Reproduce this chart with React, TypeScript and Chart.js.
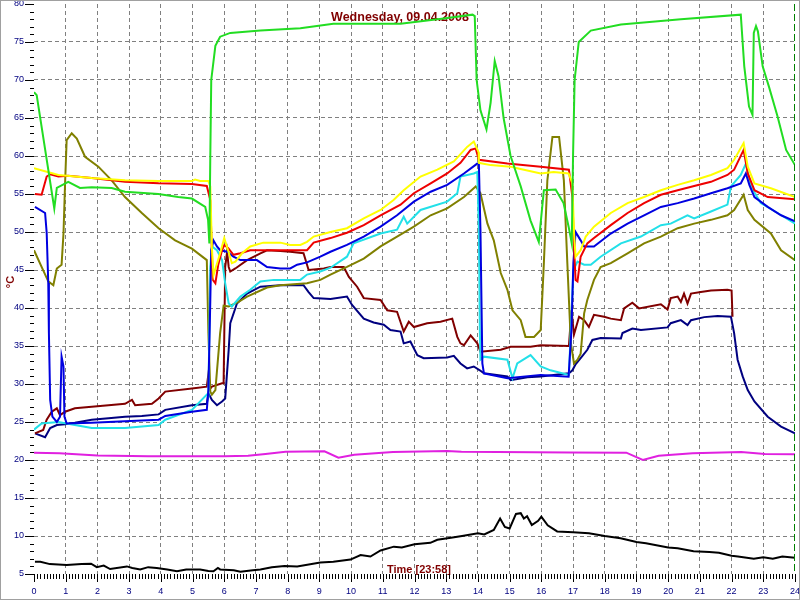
import React, { useEffect, useRef } from "react";
import { Chart, registerables } from "chart.js";

Chart.register(...registerables);

type P = [number, number];

const TITLE = "Wednesday, 09.04.2008";
const TIME_LABEL = "Time [23:58]";
const Y_UNIT = "°C";
const NOW_HOUR = 23 + 58 / 60;
const X_MIN = 0;
const X_MAX = 24;
const Y_MIN = 5;
const Y_MAX = 80;

// [hour, °C]
const green: P[] = [[0,68.4],[0.085,68.0],[0.64,53.1],[0.72,55.8],[1.08,56.6],[1.45,55.8],[1.82,55.9],[2.45,55.8],[2.87,55.3],[3.92,55.0],[4.55,54.6],[4.98,54.4],[5.40,53.3],[5.49,51.6],[5.53,48.5],[5.56,60],[5.59,70],[5.72,74.5],[5.87,75.7],[6.19,76.2],[7.14,76.5],[8.40,76.8],[9.44,77.4],[11.56,77.4],[12.92,78.1],[13.83,78.6],[13.90,78.4],[13.96,70],[14.08,66],[14.27,63.5],[14.40,67],[14.53,72.5],[14.65,70.5],[14.81,65],[15.03,60],[15.35,56],[15.66,51.5],[15.92,48.7],[16.08,55.5],[16.45,55.6],[16.70,53.8],[16.86,50.7],[16.96,48.5],[17.0,60],[17.05,70],[17.18,75],[17.56,76.5],[18.51,77.3],[20.4,78.0],[22.29,78.6],[22.40,71.8],[22.55,66.5],[22.66,65.4],[22.70,76.2],[22.77,77.1],[22.83,76.4],[22.98,71.8],[23.18,69.1],[23.45,65.2],[23.72,60.8],[24.0,58.8]];

const yellow: P[] = [[0,58.4],[0.77,57.5],[1.82,57.1],[2.87,56.8],[3.93,56.7],[4.98,56.7],[5.08,56.9],[5.24,56.7],[5.50,56.7],[5.56,56.0],[5.61,48],[5.66,44.3],[5.87,47.2],[6.00,49.2],[6.12,47.6],[6.24,45.9],[6.35,46.1],[6.56,47.2],[6.82,48.1],[7.23,48.6],[7.77,48.6],[8.08,48.3],[8.40,48.3],[8.61,48.7],[8.82,49.4],[9.35,50.0],[9.87,50.5],[10.40,51.8],[10.93,52.9],[11.34,54.2],[11.66,55.5],[12.19,57.3],[12.72,58.2],[13.24,59.3],[13.66,61.2],[13.87,61.9],[14.02,60.5],[14.03,59.1],[14.40,58.8],[15.03,58.6],[15.24,58.4],[15.98,57.7],[16.39,57.9],[16.86,57.7],[16.98,56.4],[17.03,50],[17.08,46.75],[17.24,47.6],[17.40,49.4],[17.66,50.7],[18.19,52.5],[18.72,53.8],[19.24,54.6],[19.77,55.5],[20.30,56.2],[20.82,56.8],[21.35,57.5],[21.87,58.4],[22.08,59.5],[22.38,61.7],[22.51,58.6],[22.72,56.4],[23.24,55.75],[24.0,54.6]];

const red: P[] = [[0.03,55.0],[0.24,54.9],[0.40,57.3],[0.51,57.6],[0.77,57.3],[1.08,57.4],[1.82,57.1],[2.87,56.6],[3.93,56.4],[4.98,56.3],[5.45,56.05],[5.56,54.2],[5.59,49.9],[5.64,43.7],[5.72,43.25],[5.81,45.7],[5.93,47.6],[6.00,48.3],[6.12,47.9],[6.29,47.0],[6.51,47.2],[6.82,47.6],[7.35,47.6],[8.08,47.6],[8.61,47.6],[8.82,48.6],[9.35,49.2],[9.87,49.9],[10.40,50.9],[10.93,52.2],[11.56,53.6],[11.98,55.1],[12.51,56.4],[13.03,57.7],[13.45,59.1],[13.77,60.8],[13.93,61.0],[14.03,59.5],[14.93,59.0],[15.98,58.6],[16.87,58.2],[16.98,54.6],[17.03,48.1],[17.08,43.7],[17.14,43.5],[17.24,46.75],[17.45,48.5],[17.66,49.2],[18.19,50.9],[18.72,52.5],[19.24,53.8],[19.77,54.9],[20.30,55.5],[20.82,56.05],[21.35,56.6],[21.87,57.5],[22.08,58.2],[22.38,60.8],[22.51,57.7],[22.72,55.5],[23.14,54.6],[24.0,54.3]];

const blue: P[] = [[0.03,53.3],[0.35,52.5],[0.40,49.9],[0.45,43.3],[0.47,36.7],[0.51,27.9],[0.58,25.7],[0.72,25.0],[0.82,25.7],[0.87,33.6],[0.93,32.3],[0.96,25.7],[1.03,24.8],[1.82,24.9],[2.87,25.1],[3.93,25.3],[4.14,25.8],[4.98,26.35],[5.45,26.6],[5.50,29.2],[5.56,41],[5.59,47.6],[5.66,48.9],[5.77,48.1],[5.87,47.6],[6.09,47.4],[6.29,46.75],[6.51,46.3],[7.03,46.3],[7.35,45.4],[7.77,45.2],[8.08,45.2],[8.30,45.7],[8.61,46.0],[9.03,46.75],[9.35,47.4],[9.87,48.3],[10.40,49.4],[10.93,50.7],[11.45,52.2],[11.98,54.0],[12.51,55.3],[13.03,56.2],[13.56,57.7],[13.98,59.0],[14.03,59.0],[14.08,50.3],[14.14,32.7],[14.19,31.4],[14.93,30.75],[15.98,31.2],[16.86,30.97],[16.95,37.1],[17.01,45.9],[17.08,50.0],[17.24,48.9],[17.35,48.1],[17.66,48.1],[18.19,49.8],[18.72,51.1],[19.24,52.2],[19.77,53.3],[20.30,53.8],[20.82,54.4],[21.35,55.1],[21.87,55.75],[22.29,56.4],[22.45,57.7],[22.56,56.2],[22.72,54.6],[23.14,53.3],[23.56,52.2],[24.0,51.4]];

const cyan: P[] = [[0,24.0],[0.24,24.8],[0.77,25.0],[1.29,24.6],[1.82,24.2],[2.87,24.2],[3.93,24.6],[4.14,25.3],[4.98,26.6],[5.45,28.6],[5.50,28.4],[5.56,45.4],[5.61,48.1],[5.77,47.6],[5.93,46.3],[6.03,43.25],[6.14,40.6],[6.24,40.2],[6.51,41.5],[6.82,42.4],[7.14,43.5],[7.56,43.7],[8.08,43.7],[8.40,43.7],[8.61,44.4],[9.03,44.8],[9.35,45.3],[9.87,46.75],[10.08,48.5],[10.93,49.8],[11.45,50.3],[11.66,52.0],[11.77,51.1],[12.19,52.9],[13.03,54.0],[13.35,55.1],[13.45,57.3],[13.87,57.7],[13.98,57.9],[14.03,50.3],[14.06,37.1],[14.08,33.2],[14.19,33.6],[14.93,33.2],[15.09,30.75],[15.24,32.7],[15.66,33.8],[15.98,32.3],[16.29,31.8],[16.87,31.2],[17.01,45.0],[17.14,46.1],[17.35,45.7],[17.56,45.7],[17.87,46.75],[18.51,48.5],[19.14,49.4],[19.77,50.9],[20.08,51.1],[20.61,52.2],[20.82,51.8],[21.35,52.7],[21.87,53.6],[21.98,56],[22.29,57.5],[22.45,59.0],[22.61,56],[22.92,53.8],[23.45,52.5],[24.0,51.1]];

const olive: P[] = [[0,47.6],[0.24,45.4],[0.45,43.5],[0.61,43.0],[0.72,45.2],[0.87,45.7],[0.93,49.8],[0.98,56.4],[1.03,62.1],[1.19,63.0],[1.35,62.3],[1.61,59.9],[2.03,58.6],[2.45,56.8],[2.87,54.6],[3.40,52.5],[3.93,50.5],[4.45,48.9],[4.98,47.8],[5.45,46.3],[5.50,36.7],[5.56,29.0],[5.61,28.6],[5.72,29.2],[5.87,36.7],[5.98,40.3],[6.14,40.2],[6.45,40.8],[6.72,41.5],[7.35,42.7],[7.77,43.0],[8.61,43.25],[9.03,43.7],[9.35,44.4],[9.87,45.4],[10.40,46.5],[10.93,48.1],[11.45,49.4],[11.98,50.7],[12.51,52.2],[13.03,53.1],[13.56,54.6],[13.93,56.0],[14.08,55.1],[14.30,51.1],[14.50,48.9],[14.72,44.6],[14.93,42.4],[15.09,39.7],[15.35,38.4],[15.50,36.2],[15.77,36.2],[15.98,37.1],[16.08,45.9],[16.19,56.8],[16.35,62.5],[16.56,62.5],[16.71,56.8],[16.82,45.9],[16.93,35.4],[17.03,32.7],[17.14,33.2],[17.24,34.0],[17.35,39.3],[17.45,41.05],[17.66,43.7],[17.87,45.4],[18.19,45.9],[18.72,47.2],[19.24,48.5],[19.77,49.4],[20.30,50.5],[20.82,51.1],[21.35,51.6],[21.87,52.2],[22.08,52.9],[22.38,54.9],[22.51,52.9],[22.72,51.6],[23.24,49.8],[23.56,47.6],[24.0,46.3]];

const maroon: P[] = [[0.03,23.5],[0.29,23.95],[0.40,25.3],[0.56,26.35],[0.72,26.8],[0.82,25.9],[0.98,26.35],[1.29,26.8],[1.82,27.0],[2.35,27.2],[2.87,27.4],[3.09,27.9],[3.19,27.2],[3.72,27.4],[3.93,28.1],[4.14,29.0],[4.98,29.4],[5.45,29.65],[5.50,31.3],[5.56,29.4],[5.61,29.65],[5.93,30.1],[5.98,30.1],[6.03,45.4],[6.09,47.4],[6.14,45.4],[6.19,44.8],[6.35,45.2],[6.72,46.3],[7.14,47.2],[7.35,47.6],[7.77,47.5],[8.08,47.4],[8.50,47.2],[8.66,45.0],[9.14,45.2],[9.35,45.4],[9.77,45.4],[9.93,44.1],[10.19,42.8],[10.40,41.3],[10.93,41.05],[11.14,39.7],[11.45,39.5],[11.66,36.9],[11.82,38.2],[11.98,37.5],[12.40,38.0],[12.82,38.2],[13.19,38.6],[13.35,36.2],[13.45,35.35],[13.56,35.1],[13.77,36.4],[13.98,35.35],[14.08,34.25],[14.72,34.5],[15.03,34.9],[15.66,34.9],[15.98,35.1],[16.87,35.0],[16.95,39.7],[17.03,36.5],[17.19,38.85],[17.35,38.4],[17.50,37.5],[17.66,39.1],[17.98,38.85],[18.19,38.6],[18.51,38.4],[18.61,39.95],[18.87,40.7],[19.08,39.95],[19.77,40.5],[19.98,39.8],[20.08,41.3],[20.30,41.5],[20.40,40.8],[20.50,41.9],[20.61,40.6],[20.72,41.9],[21.03,42.1],[21.35,42.3],[21.87,42.4],[22.00,42.3],[22.03,38.85]];

const navy: P[] = [[0.03,23.5],[0.35,23.0],[0.51,24.2],[0.72,24.6],[0.98,24.7],[1.29,24.9],[1.82,25.3],[2.35,25.5],[2.87,25.7],[3.40,25.8],[3.93,26.0],[4.14,26.6],[4.98,27.2],[5.45,27.4],[5.50,28.8],[5.61,27.9],[5.77,27.2],[5.93,27.7],[6.03,28.1],[6.14,34.5],[6.19,38.0],[6.40,40.6],[6.72,41.9],[7.14,42.8],[7.77,43.0],[8.50,43.0],[8.66,42.1],[8.82,41.3],[9.35,41.2],[9.87,41.5],[10.03,40.4],[10.40,38.6],[10.71,38.1],[11.03,37.8],[11.24,37.1],[11.56,36.9],[11.66,35.35],[11.87,35.6],[12.09,33.8],[12.29,33.4],[13.03,33.5],[13.24,33.7],[13.45,32.7],[13.66,32.05],[13.87,32.3],[14.06,31.8],[14.19,31.4],[14.93,31.0],[15.03,30.5],[15.56,30.9],[15.98,31.0],[16.87,31.4],[16.98,31.8],[17.08,32.6],[17.24,33.4],[17.45,34.5],[17.61,35.8],[17.87,36.05],[18.51,36.0],[18.56,36.7],[18.87,37.3],[19.14,37.1],[19.98,37.45],[20.08,38.0],[20.40,38.4],[20.61,37.75],[20.72,38.4],[21.14,38.8],[21.56,38.95],[21.98,38.85],[22.08,36.7],[22.19,33.2],[22.35,31.0],[22.51,29.2],[22.72,27.7],[23.14,25.7],[23.56,24.4],[24.0,23.5]];

const magenta: P[] = [[0,20.96],[0.8,20.9],[2.0,20.6],[3.6,20.5],[6.0,20.5],[6.75,20.55],[7.3,20.8],[7.93,21.1],[9.16,21.15],[9.6,20.3],[10.1,20.7],[11.32,21.05],[13.03,21.2],[13.48,21.1],[16.9,21.0],[18.68,20.96],[19.2,20.0],[19.7,20.55],[20.77,20.9],[22.3,21.05],[23.05,20.8],[24.0,20.75]];

const black: P[] = [[0.03,6.6],[0.2,6.6],[0.5,6.3],[1.03,6.2],[1.5,6.3],[1.8,6.35],[1.98,5.9],[2.2,6.1],[2.4,5.65],[2.93,6.0],[3.1,5.8],[3.35,5.6],[3.6,5.9],[3.87,5.8],[4.2,5.6],[4.51,5.35],[4.8,5.6],[5.24,5.6],[5.5,5.4],[5.66,5.35],[5.8,5.8],[5.87,5.6],[6.3,5.5],[6.51,5.3],[6.9,5.5],[7.14,5.6],[7.5,5.9],[7.9,6.05],[8.3,6.0],[9.03,6.5],[9.44,6.6],[9.98,6.9],[10.3,7.5],[10.61,7.3],[10.93,8.1],[11.35,8.6],[11.6,8.5],[12.0,8.9],[12.5,9.1],[12.72,9.5],[13.2,9.8],[13.5,10.0],[14.0,10.35],[14.2,10.2],[14.5,10.8],[14.7,12.3],[14.85,11.2],[15.0,11.0],[15.2,12.9],[15.35,13.0],[15.45,12.3],[15.55,12.6],[15.7,11.45],[15.9,12.0],[16.0,12.55],[16.2,11.4],[16.5,10.6],[17.0,10.5],[17.5,10.35],[18.0,10.0],[18.5,9.7],[19.0,9.2],[19.3,9.05],[20.0,8.5],[20.3,8.4],[20.8,8.0],[21.3,7.9],[21.6,7.8],[22.0,7.4],[22.2,7.3],[22.7,7.0],[23.0,7.2],[23.3,7.0],[23.6,7.3],[24.0,7.15]];

const SERIES: { data: P[]; color: string }[] = [
  { data: green, color: "#22dd22" },
  { data: yellow, color: "#ffff00" },
  { data: red, color: "#ee0000" },
  { data: blue, color: "#0000e0" },
  { data: cyan, color: "#22e0e8" },
  { data: olive, color: "#808000" },
  { data: maroon, color: "#800000" },
  { data: navy, color: "#000080" },
  { data: magenta, color: "#e020e0" },
  { data: black, color: "#000000" },
];

const FONT = '"Liberation Sans", Arial, sans-serif';

const decor = {
  id: "decor",
  beforeDatasetsDraw(chart: any) {
    const ctx = chart.ctx;
    ctx.save();
    ctx.fillStyle = "#800000";
    ctx.font = `bold 12.5px ${FONT}`;
    ctx.textAlign = "center";
    ctx.textBaseline = "alphabetic";
    ctx.fillText(TITLE, 400, 21);
    ctx.font = `bold 11px ${FONT}`;
    ctx.textAlign = "left";
    ctx.fillText(TIME_LABEL, 387, 573);
    ctx.translate(11, 282);
    ctx.rotate(-Math.PI / 2);
    ctx.textAlign = "center";
    ctx.textBaseline = "middle";
    ctx.font = `bold 11px ${FONT}`;
    ctx.fillText(Y_UNIT, 0, 0);
    ctx.restore();
  },
  afterDraw(chart: any) {
    const ctx = chart.ctx;
    const xs = chart.scales.x;
    const ys = chart.scales.y;
    const area = chart.chartArea;
    ctx.save();
    ctx.strokeStyle = "#000000";
    ctx.lineWidth = 1;
    ctx.beginPath();
    for (let v = Y_MIN; v <= Y_MAX; v++) {
      const y = Math.round(ys.getPixelForValue(v)) + 0.5;
      const len = v % 5 === 0 ? 9 : 4;
      ctx.moveTo(area.left - len, y);
      ctx.lineTo(area.left, y);
    }
    for (let i = X_MIN * 10; i <= X_MAX * 10; i++) {
      const x = Math.round(xs.getPixelForValue(i / 10)) + 0.5;
      const len = i % 10 === 0 ? 8 : 5;
      ctx.moveTo(x, area.bottom);
      ctx.lineTo(x, area.bottom + len);
    }
    ctx.stroke();
    // current time marker
    const nx = Math.round(xs.getPixelForValue(NOW_HOUR)) + 0.5;
    ctx.strokeStyle = "#008000";
    ctx.setLineDash([7, 3]);
    ctx.beginPath();
    ctx.moveTo(nx, area.top);
    ctx.lineTo(nx, area.bottom);
    ctx.stroke();
    ctx.setLineDash([]);
    // frame
    ctx.strokeStyle = "#a0a0a0";
    ctx.strokeRect(0.5, 0.5, chart.width - 1, chart.height - 1);
    ctx.restore();
  },
};

export default function App() {
  const ref = useRef<HTMLCanvasElement | null>(null);
  useEffect(() => {
    if (!ref.current) return;
    const edgeColor = (edges: number[]) => (c: any) =>
      c.tick && edges.includes(c.tick.value) ? "rgba(0,0,0,0)" : "#808080";
    const chart = new Chart(ref.current, {
      type: "line",
      data: {
        datasets: SERIES.map((s) => ({
          data: s.data.map(([x, y]) => ({ x, y })),
          borderColor: s.color,
          backgroundColor: s.color,
          borderWidth: 2,
          pointRadius: 0,
          tension: 0,
          fill: false,
        })),
      },
      options: {
        animation: false,
        responsive: false,
        maintainAspectRatio: false,
        events: [],
        parsing: false as any,
        layout: { padding: { left: 0, right: 5, top: 4, bottom: 0 } },
        plugins: {
          legend: { display: false },
          tooltip: { enabled: false },
          title: { display: false },
        },
        scales: {
          x: {
            type: "linear",
            min: X_MIN,
            max: X_MAX,
            afterFit: (s: any) => {
              s.height = 26;
              s.paddingLeft = 0;
              s.paddingRight = 0;
            },
            ticks: {
              stepSize: 1,
              autoSkip: false,
              maxRotation: 0,
              color: "#000080",
              padding: 12,
              font: { family: FONT, size: 9 },
            },
            grid: { drawTicks: false, color: edgeColor([X_MIN, X_MAX]), lineWidth: 1 },
            border: { display: false, dash: [4, 3] },
          },
          y: {
            type: "linear",
            min: Y_MIN,
            max: Y_MAX,
            afterFit: (s: any) => {
              s.width = 34;
              s.paddingTop = 0;
              s.paddingBottom = 0;
            },
            ticks: {
              stepSize: 5,
              color: "#000080",
              padding: 10,
              font: { family: FONT, size: 9 },
            },
            grid: { drawTicks: false, color: edgeColor([Y_MIN, Y_MAX]), lineWidth: 1 },
            border: { display: false, dash: [4, 3] },
          },
        },
      },
      plugins: [decor],
    });
    return () => chart.destroy();
  }, []);
  return (
    <div style={{ position: "fixed", left: 0, top: 0, width: 800, height: 600, background: "#ffffff" }}>
      <canvas ref={ref} width={800} height={600} style={{ width: 800, height: 600, display: "block" }} />
    </div>
  );
}
